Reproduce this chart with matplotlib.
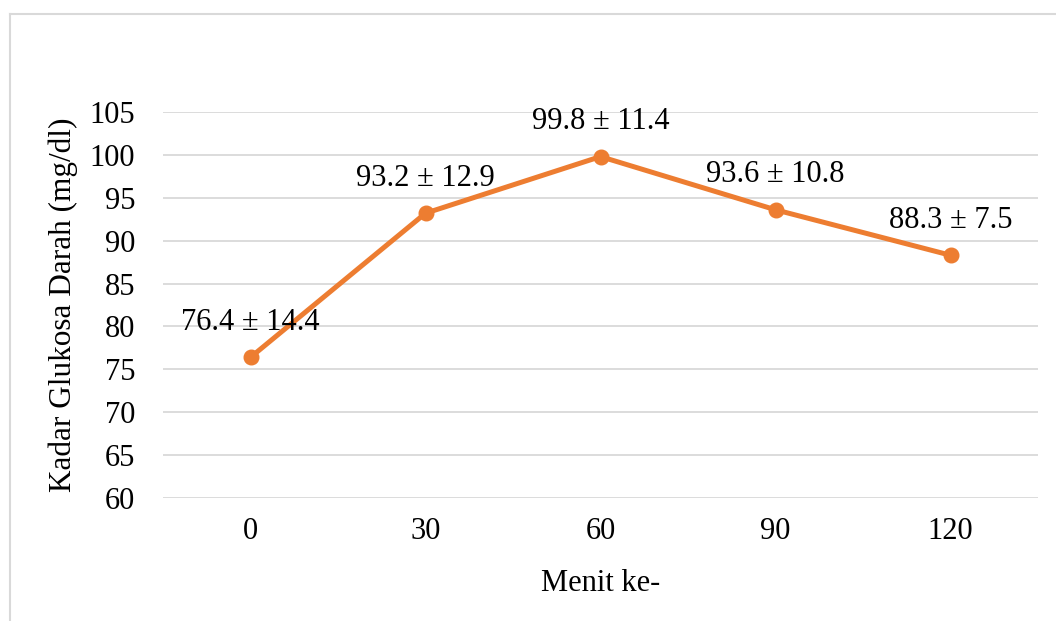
import matplotlib
matplotlib.use("Agg")
import matplotlib.pyplot as plt
from matplotlib.lines import Line2D

categories = ["0", "30", "60", "90", "120"]
means = [76.4, 93.2, 99.8, 93.6, 88.3]
sds = [14.4, 12.9, 11.4, 10.8, 7.5]
yticks = [60, 65, 70, 75, 80, 85, 90, 95, 100, 105]

plt.rcParams['font.family'] = ['Liberation Serif', 'DejaVu Serif']

W, H = 1056, 621
fig = plt.figure(figsize=(W / 100, H / 100), dpi=100)
ax = fig.add_axes([163 / W, 1 - 498 / H, (1038 - 163) / W, (498 - 112) / H])

x = list(range(len(categories)))
ax.plot(x, means, color='#ED7D31', lw=3.6, marker='o', markersize=10.5,
        solid_capstyle='round', zorder=3)

for xi, m, s in zip(x, means, sds):
    ax.annotate(f"{m} \u00b1 {s}", (xi, m), xytext=(0, 35), textcoords='offset pixels',
                ha='center', va='center', fontsize=22, color='black', zorder=4)

ax.set_xlim(-0.5, len(categories) - 0.5)
ax.set_ylim(60, 105)
ax.set_yticks(yticks)
ax.set_xticks(x)
ax.set_xticklabels(categories)
ax.grid(axis='y', color='#D9D9D9', lw=1.3)
ax.set_axisbelow(True)
for sp in ax.spines.values():
    sp.set_visible(False)
ax.tick_params(axis='both', length=0, labelsize=22)
ax.tick_params(axis='y', pad=20)
ax.tick_params(axis='x', pad=14)

ax.set_xlabel("Menit ke-", fontsize=22, labelpad=16)
ax.set_ylabel("Kadar Glukosa Darah (mg/dl)", fontsize=22.5, labelpad=8)

# chart border (top and left visible)
fig.add_artist(Line2D([9.5 / W, 9.5 / W], [0, 1 - 14 / H], color='#D9D9D9', lw=1.5,
                      transform=fig.transFigure))
fig.add_artist(Line2D([9.5 / W, 1], [1 - 14 / H, 1 - 14 / H], color='#D9D9D9', lw=1.5,
                      transform=fig.transFigure))

fig.savefig("out.png", dpi=100)
